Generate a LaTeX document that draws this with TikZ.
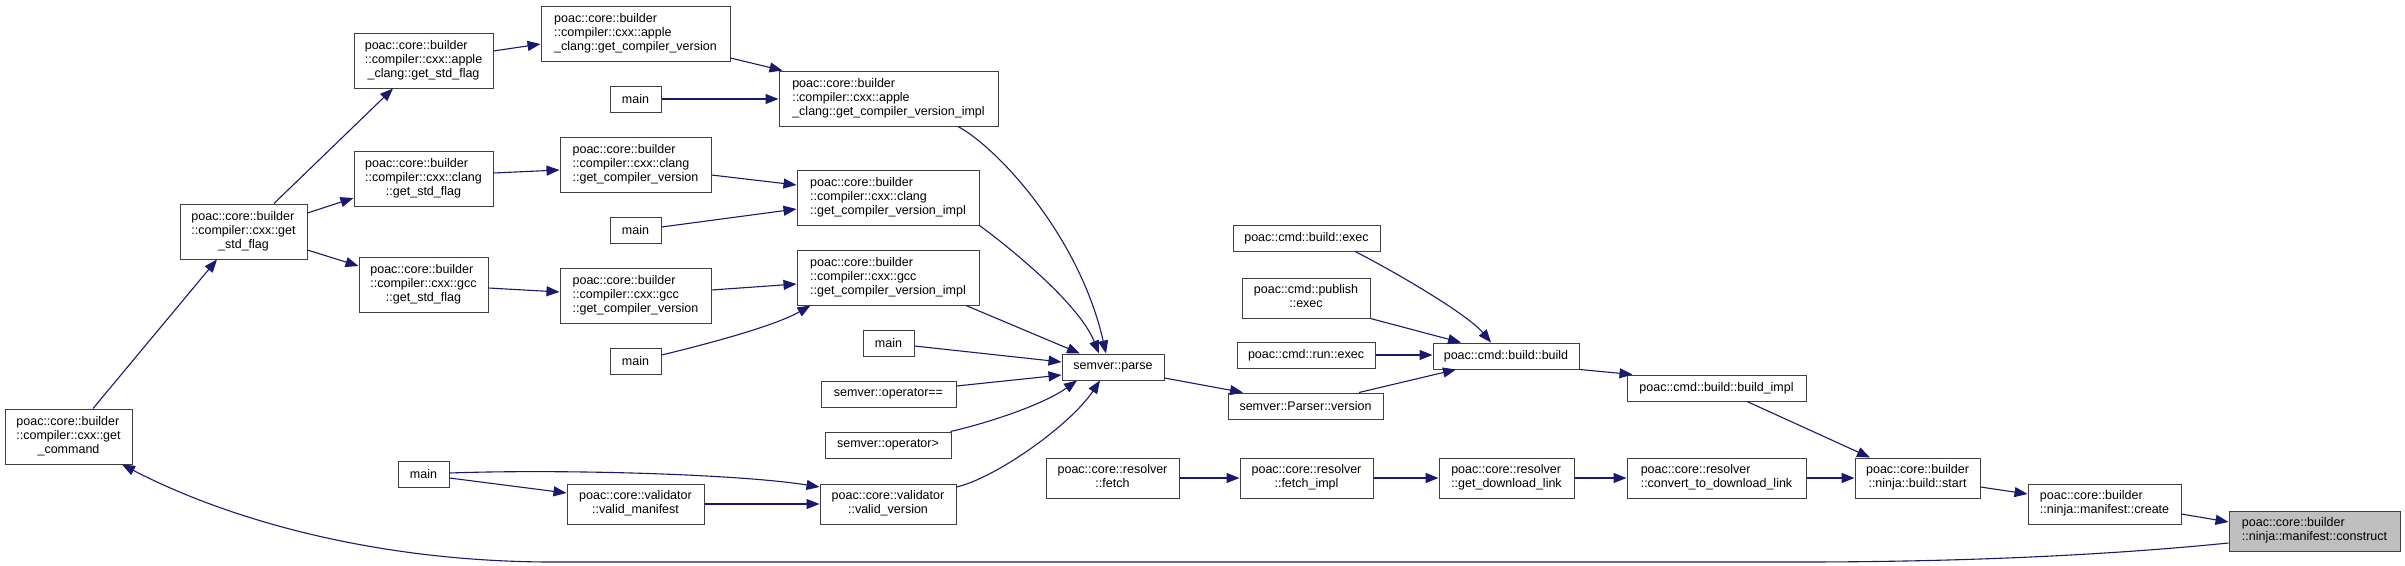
\documentclass[tikz,border=0pt]{standalone}
\usepackage{fontspec}
\setmainfont{Liberation Sans}
\usetikzlibrary{arrows.meta}
\definecolor{edgec}{HTML}{191970}
\definecolor{boxc}{HTML}{404040}
\definecolor{hilite}{HTML}{BFBFBF}
\newcommand\nfont{\fontsize{12.5}{14}\selectfont}
\newcommand\Lii[2]{\begin{tabular}{@{}l@{}}#1\\\multicolumn{1}{@{}c@{}}{#2}\end{tabular}}
\newcommand\Liii[3]{\begin{tabular}{@{}l@{}}#1\\#2\\\multicolumn{1}{@{}c@{}}{#3}\end{tabular}}
\tikzset{
  box/.style={draw=boxc, line width=1pt, fill=white, inner sep=0pt, font=\nfont, rectangle},
  bA/.style={box, minimum height=26pt},
  bB/.style={box, minimum height=40pt},
  bC/.style={box, minimum height=55pt},
  edge/.style={draw=edgec, line width=1.1pt, -{Triangle[length=13pt,width=10pt]}},
}
\begin{document}
\begin{tikzpicture}[x=1pt,y=-1pt]
\fill[white] (0,0) rectangle (2405,565);
\useasboundingbox (0,0) rectangle (2405,565);
% rank 11
\node[bC, minimum width=127pt] (gc) at (68.5,436.5) {\Liii{poac::core::builder}{::compiler::cxx::get}{\_command}};
% rank 10
\node[bC, minimum width=127pt] (gsf) at (243.5,231.5) {\Liii{poac::core::builder}{::compiler::cxx::get}{\_std\_flag}};
% rank 9
\node[bC, minimum width=139pt] (as) at (423.5,60.5) {\Liii{poac::core::builder}{::compiler::cxx::apple}{\_clang::get\_std\_flag}};
\node[bC, minimum width=139pt] (cs) at (423.5,178.5) {\Liii{poac::core::builder}{::compiler::cxx::clang}{::get\_std\_flag}};
\node[bC, minimum width=129pt] (gs) at (423.5,284.5) {\Liii{poac::core::builder}{::compiler::cxx::gcc}{::get\_std\_flag}};
\node[bA, minimum width=51pt] (mv) at (423.5,474) {main};
% rank 8
\node[bC, minimum width=189pt] (ag) at (635.5,33.5) {\Liii{poac::core::builder}{::compiler::cxx::apple}{\_clang::get\_compiler\_version}};
\node[bA, minimum width=51pt] (ma) at (635.5,99) {main};
\node[bC, minimum width=151pt] (cg) at (635.5,164.5) {\Liii{poac::core::builder}{::compiler::cxx::clang}{::get\_compiler\_version}};
\node[bA, minimum width=51pt] (mc) at (635.5,230) {main};
\node[bC, minimum width=151pt] (gg) at (635.5,295.5) {\Liii{poac::core::builder}{::compiler::cxx::gcc}{::get\_compiler\_version}};
\node[bA, minimum width=51pt] (mg) at (635.5,361) {main};
\node[bB, minimum width=137pt] (vm) at (635.5,504) {\Lii{poac::core::validator}{::valid\_manifest}};
% rank 7
\node[bC, minimum width=219pt] (ai) at (888.5,98.5) {\Liii{poac::core::builder}{::compiler::cxx::apple}{\_clang::get\_compiler\_version\_impl}};
\node[bC, minimum width=182pt] (ci) at (888,197.5) {\Liii{poac::core::builder}{::compiler::cxx::clang}{::get\_compiler\_version\_impl}};
\node[bC, minimum width=182pt] (gi) at (888,277.5) {\Liii{poac::core::builder}{::compiler::cxx::gcc}{::get\_compiler\_version\_impl}};
\node[bA, minimum width=51pt] (mp) at (888.5,343) {main};
\node[bA, minimum width=135pt] (oe) at (888.5,394) {semver::operator==};
\node[bA, minimum width=126pt] (og) at (888,445) {semver::operator>};
\node[bB, minimum width=136pt] (vv) at (888,504) {\Lii{poac::core::validator}{::valid\_version}};
% rank 6
\node[bA, minimum width=102pt] (sp) at (1113,367) {semver::parse};
\node[bB, minimum width=133pt] (fe) at (1112.5,478) {\Lii{poac::core::resolver}{::fetch}};
% rank 5
\node[bA, minimum width=147pt] (be) at (1306.5,238) {poac::cmd::build::exec};
\node[bB, minimum width=128pt] (pe) at (1306,298) {\Lii{poac::cmd::publish}{::exec}};
\node[bA, minimum width=138pt] (re) at (1306,355) {poac::cmd::run::exec};
\node[bA, minimum width=155pt] (pv) at (1305.5,406) {semver::Parser::version};
\node[bB, minimum width=133pt] (fi) at (1306.5,478) {\Lii{poac::core::resolver}{::fetch\_impl}};
% rank 4
\node[bA, minimum width=146pt] (bb) at (1506,356) {poac::cmd::build::build};
\node[bB, minimum width=135pt] (gd) at (1506.5,478) {\Lii{poac::core::resolver}{::get\_download\_link}};
% rank 3
\node[bA, minimum width=179pt] (bi) at (1716.5,388) {poac::cmd::build::build\_impl};
\node[bB, minimum width=179pt] (cv) at (1716.5,478) {\Lii{poac::core::resolver}{::convert\_to\_download\_link}};
% rank 2
\node[bB, minimum width=125pt] (st) at (1917.5,478) {\Lii{poac::core::builder}{::ninja::build::start}};
% rank 1
\node[bB, minimum width=153pt] (cr) at (2104.5,504) {\Lii{poac::core::builder}{::ninja::manifest::create}};
% rank 0
\node[bB, minimum width=171pt, fill=hilite] (ct) at (2314.5,531) {\Lii{poac::core::builder}{::ninja::manifest::construct}};

\coordinate (w1) at (1800,562);
\coordinate (w2) at (560,562);

% edges
\draw[edge] ([xshift=24.5pt]gc.north) -- ([xshift=-26.5pt]gsf.south);
\draw[edge] ([xshift=30.5pt]gsf.north) -- ([xshift=-30.5pt]as.south);
\draw[edge] ([yshift=18.5pt]gsf.east) -- ([yshift=-19.5pt]cs.west);
\draw[edge] ([yshift=-18.5pt]gsf.east) -- ([yshift=18.5pt]gs.west);
\draw[edge] ([yshift=9.5pt]as.east) -- ([yshift=-10.5pt]ag.west);
\draw[edge] ([yshift=5.5pt]cs.east) -- ([yshift=-5.5pt]cg.west);
\draw[edge] ([yshift=-3.5pt]gs.east) -- ([yshift=3.5pt]gg.west);
\draw[edge] ([yshift=-24.5pt]ag.east) -- ([xshift=4pt]ai.north west);
\draw[edge] (ma.east) -- (ma.east -| ai.west);
\draw[edge] ([yshift=-10.5pt]cg.east) -- ([yshift=12.5pt]ci.west);
\draw[edge] ([yshift=3pt]mc.east) -- ([yshift=-11.5pt]ci.west);
\draw[edge] ([yshift=5.5pt]gg.east) -- ([yshift=-6.5pt]gi.west);
\draw[edge] ([yshift=6pt]mg.east) .. controls +(50,-12) and +(-35,20) .. ([xshift=14pt]gi.south west);
\draw[edge] ([xshift=69.5pt]ai.south) .. controls +(42,23) and +(-26,-115) .. ([xshift=-7pt]sp.north);
\draw[edge] (ci.south east) .. controls +(30,22) and +(-20,-50) .. ([xshift=-14pt]sp.north);
\draw[edge] ([xshift=78pt]gi.south) -- ([xshift=-33pt]sp.north);
\draw[edge] ([yshift=-3pt]mp.east) -- ([yshift=5pt]sp.west);
\draw[edge] ([yshift=8pt]oe.east) -- ([yshift=-8pt]sp.west);
\draw[edge] ([xshift=-1pt]og.north east) .. controls +(35,-8) and +(-35,25) .. ([xshift=-36pt]sp.south);
\draw[edge] ([yshift=17pt]vv.east) .. controls +(39,-9) and +(-30,45) .. ([xshift=-13pt]sp.south);
\draw[edge] ([yshift=-11pt]sp.east) -- ([xshift=-62.5pt]pv.north);
\draw[edge] ([xshift=53.5pt]pv.north) -- ([xshift=-50pt]bb.south);
\draw[edge] ([xshift=48.5pt]be.south) .. controls +(30,15) and +(-25,-30) .. ([xshift=-15pt]bb.north);
\draw[edge] (pe.south east) -- ([xshift=-45pt]bb.north);
\draw[edge] (re.east) -- (re.east -| bb.west);
\draw[edge] (bb.south east) -- ([xshift=6pt]bi.north west);
\draw[edge] ([xshift=30.5pt]bi.south) -- ([xshift=-47.5pt]st.north);
\draw[edge] (cv.east) -- (st.west);
\draw[edge] ([yshift=-9pt]st.east) -- ([yshift=10pt]cr.west);
\draw[edge] ([yshift=-10pt]cr.east) -- ([yshift=9pt]ct.west);
\draw[edge] ([yshift=-12pt]ct.west) .. controls +(-129,13) and +(150,0) .. (w1) -- (w2) .. controls +(-180,1) and +(108,56) .. ([xshift=53.5pt]gc.south);
\draw[edge] (fe.east) -- (fi.west);
\draw[edge] (fi.east) -- (gd.west);
\draw[edge] (gd.east) -- (cv.west);
\draw[edge] ([yshift=1pt]mv.east) .. controls +(111,-4) and +(-81,-13) .. ([yshift=17pt]vv.west);
\draw[edge] ([yshift=-4pt]mv.east) -- ([yshift=11pt]vm.west);
\draw[edge] (vm.east) -- (vv.west);
\end{tikzpicture}
\end{document}
